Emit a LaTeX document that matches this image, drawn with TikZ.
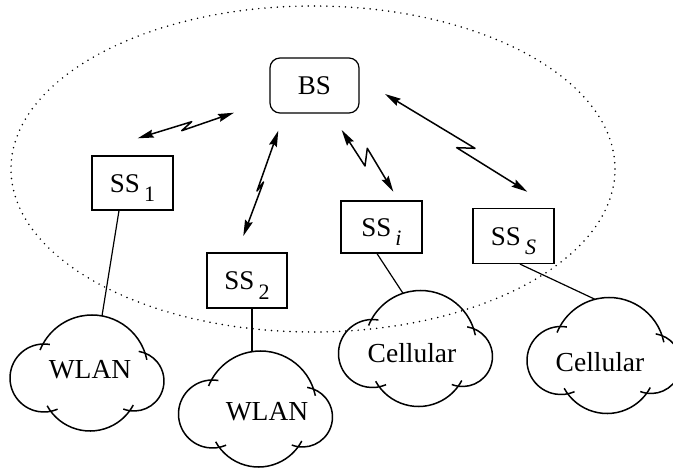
\documentclass[tikz,border=0pt]{standalone}
\usepackage{fontspec}
\setmainfont{Liberation Serif}
\usetikzlibrary{arrows.meta,calc}
\newcommand{\sbs}[1]{\hspace{4pt}\raisebox{-9.5pt}{\fontsize{22}{22}\selectfont #1}}
\tikzset{
  pics/cloudshape/.style={code={
    \draw[cloudline] (5,2) ++(11.6:56) arc[start angle=11.6,end angle=158,radius=56];
    \draw[cloudline] (-43,-5) ++(80:34) arc[start angle=80,end angle=293.5,radius=34];
    \draw[cloudline] (3,-9) ++(209:49) arc[start angle=209,end angle=332,radius=49];
    \draw[cloudline] (47,-8) ++(-111:30) arc[start angle=-111,end angle=81,radius=30];
  }},
  cloudline/.style={line width=1.5pt},
}
\begin{document}
\begin{tikzpicture}[x=1pt,y=1pt,
  box/.style={draw, line width=1.2pt, minimum width=81pt, minimum height=54pt, inner sep=0pt,
              font=\fontsize{27}{30}\selectfont, text height=18pt, text depth=0pt},
  wl/.style={line width=1.5pt, line join=round,
             {Stealth[length=16pt,width=8pt,inset=2pt]}-{Stealth[length=16pt,width=8pt,inset=2pt]}},
  link/.style={line width=1.2pt},
  lbl/.style={font=\fontsize{27.5}{30}\selectfont, inner sep=0pt}]
\useasboundingbox (0,0) rectangle (673,467);
\draw[line width=1.7pt, dash pattern=on 0pt off 6.2pt, line cap=round]
  (313,298) ellipse [x radius=302, y radius=163];

% boxes
\node[box, rounded corners=10pt, minimum width=89pt, minimum height=55pt] (bs) at (314.5,381.5) {BS};
\node[box] (ss1) at (132.5,284) {SS\sbs{1}};
\node[box, minimum width=80pt, minimum height=55pt] (ss2) at (247,186.5) {SS\sbs{2}};
\node[box, minimum height=52pt] (ssi) at (381.5,240) {SS\sbs{\textit{i}}};
\node[box, minimum height=55pt] (sss) at (513.5,231) {SS\sbs{\textit{S}}};

% clouds
\pic at (87,94) {cloudshape};
\node[lbl] (w1) at (90,97) {WLAN};
\coordinate (w1top) at (102,151.1);
\pic at (255.5,58) {cloudshape};
\node[lbl] (w2) at (267,55) {WLAN};
\coordinate (w2top) at (252,115.4);
\pic at (415.5,118.5) {cloudshape};
\node[lbl] (ci) at (412,114) {Cellular};
\coordinate (citop) at (403,173.7);
\pic at (604,111.5) {cloudshape};
\node[lbl] (cs) at (600,105) {Cellular};
\coordinate (cstop) at (595,167.7);

% wired links
\draw[link] ([xshift=-13.5pt]ss1.south) -- (w1top);
\draw[link] ([xshift=5pt]ss2.south) -- (w2top);
\draw[link] ([xshift=-4.5pt]ssi.south) -- (citop);
\draw[link] ([xshift=6.5pt]sss.south) -- (cstop);

% wireless links
\coordinate (a1) at (137.7,328.7); \coordinate (b1) at (234,354.3);
\coordinate (a2) at (278.3,336.3); \coordinate (b2) at (243.3,231);
\coordinate (a3) at (341.7,337);   \coordinate (b3) at (393.3,275.3);
\coordinate (a4) at (385,373);     \coordinate (b4) at (527.3,275.3);
\draw[wl] (a1) -- (191.7,345.3) -- (181.7,336.3) -- (b1);
\draw[wl] (a2) -- (257,276) -- (263.5,285) -- (b2);
\draw[wl] (a3) -- (365,301) -- (367.3,318.7) -- (b3);
\draw[wl] (a4) -- (475,318.7) -- (456.7,319.3) -- (b4);
\end{tikzpicture}
\end{document}
